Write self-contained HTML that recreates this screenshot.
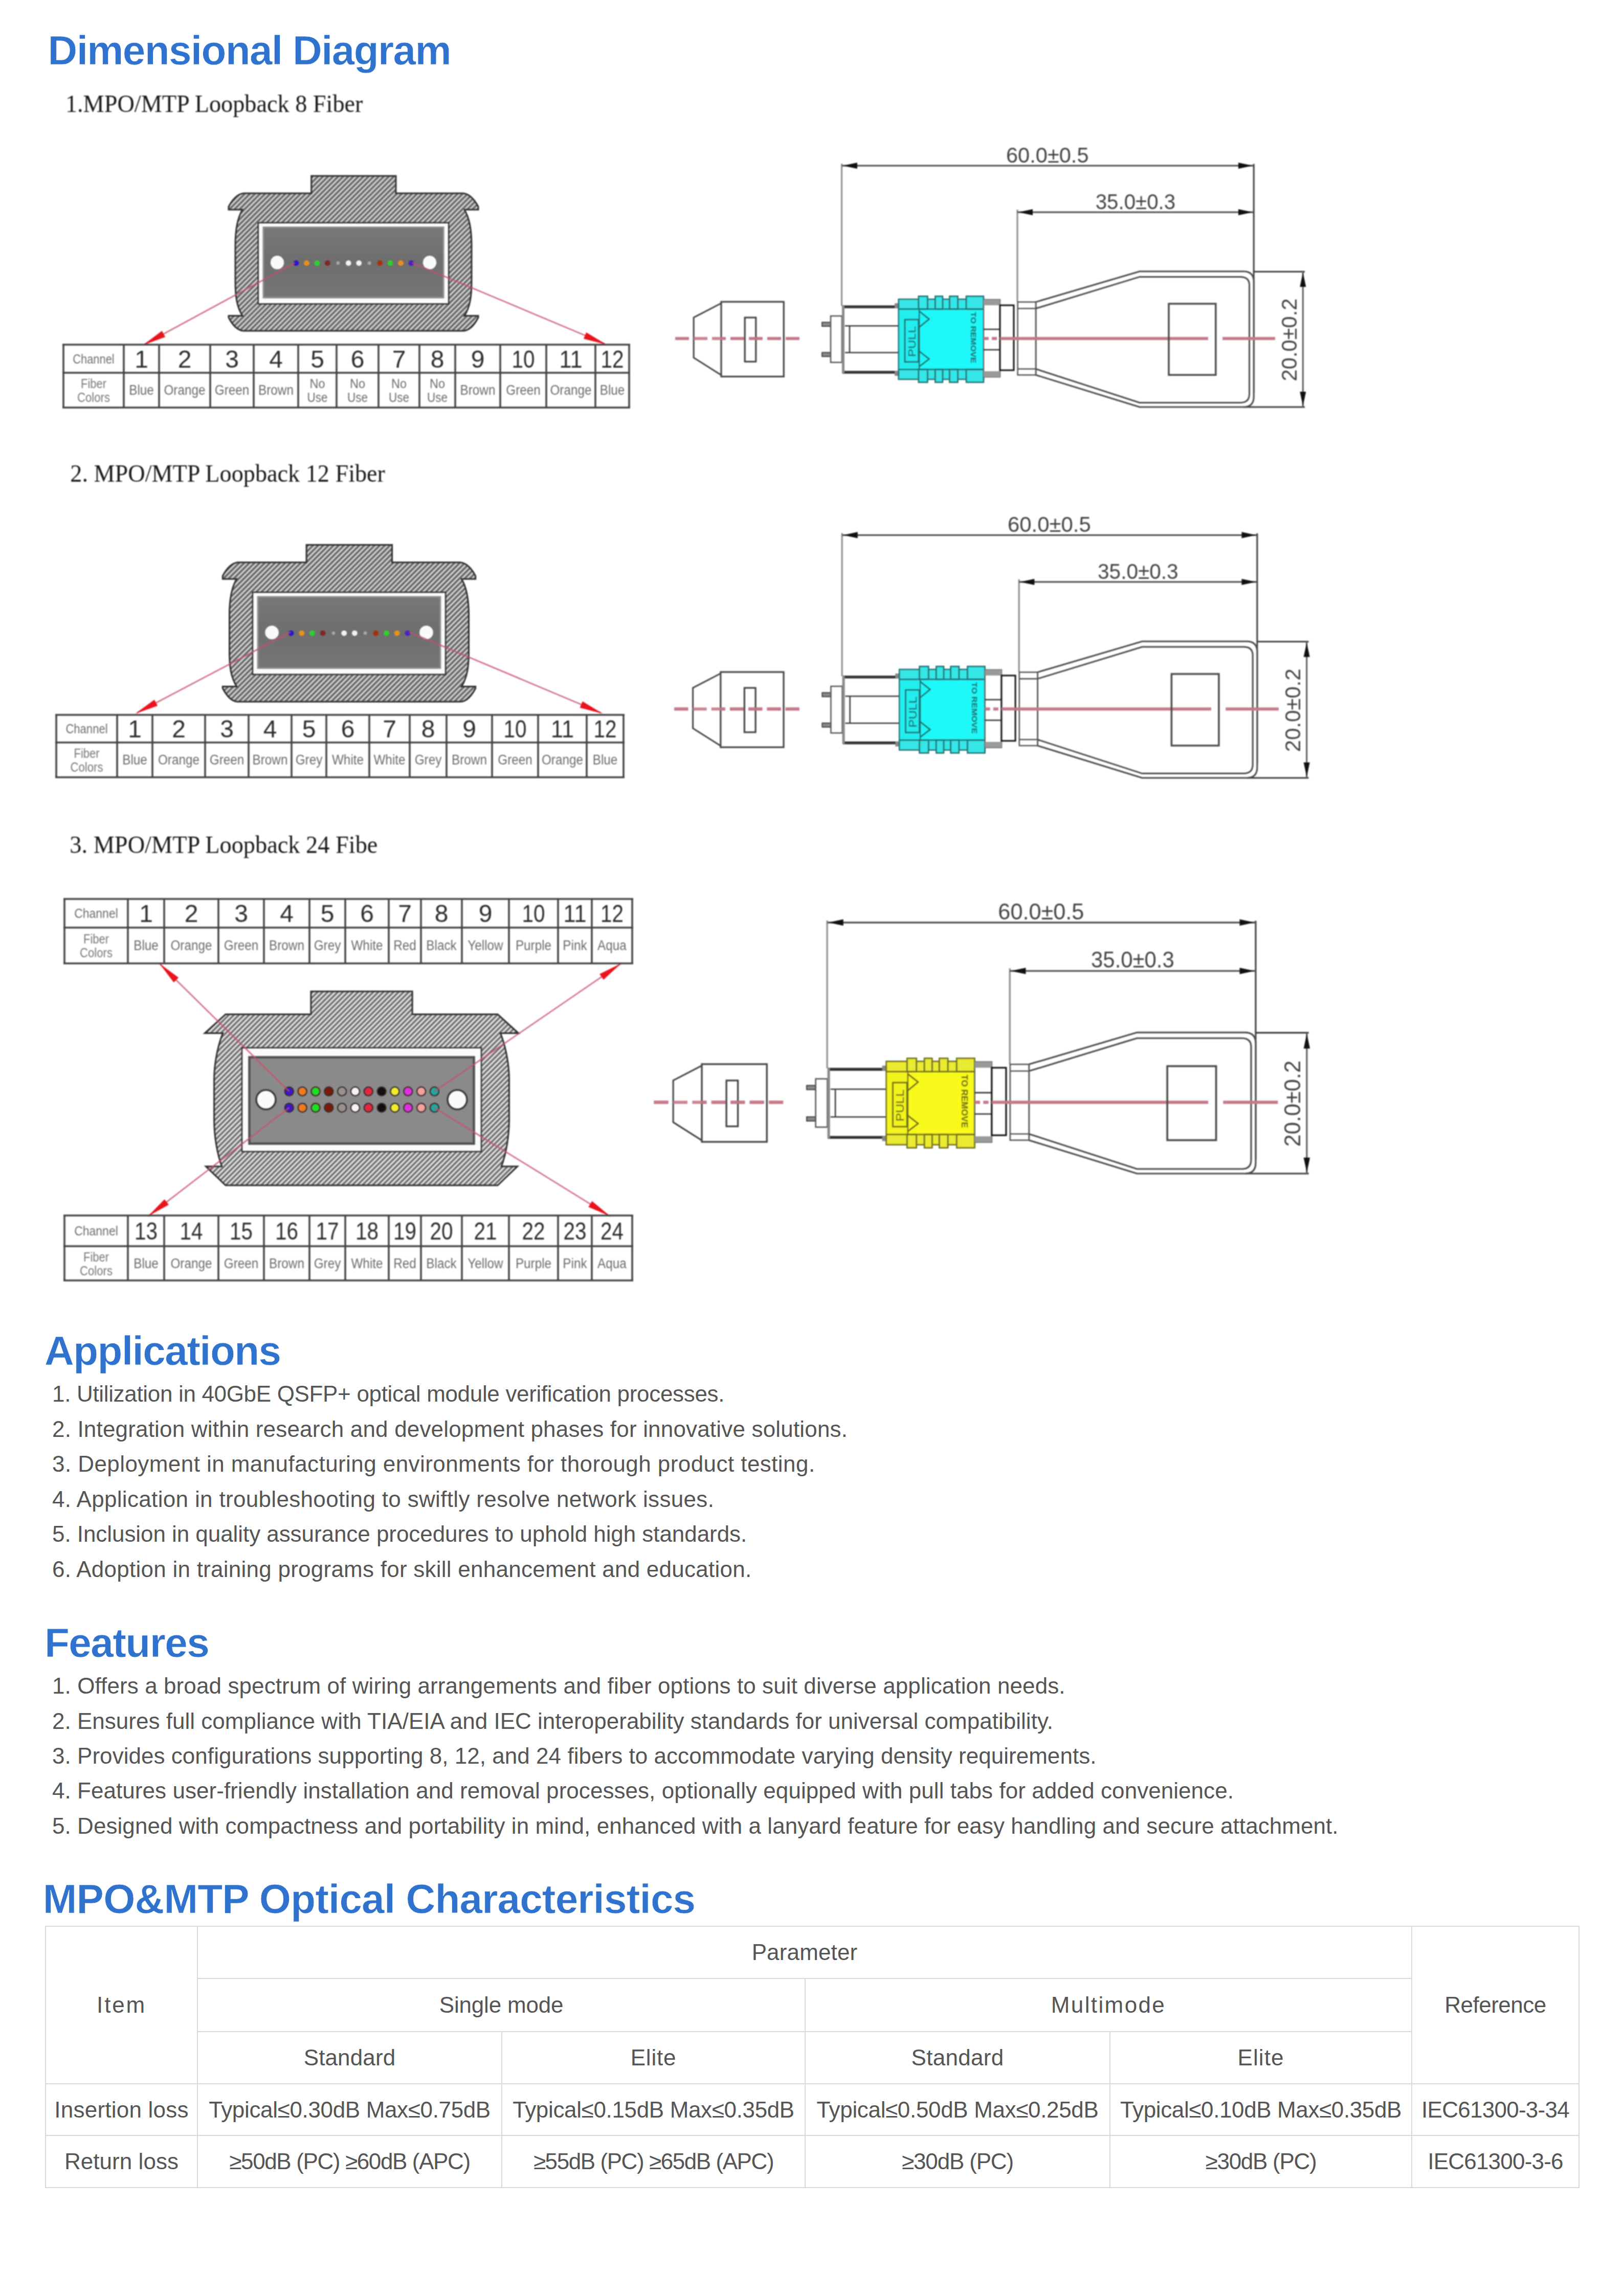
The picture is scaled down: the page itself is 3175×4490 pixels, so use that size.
<!DOCTYPE html><html><head><meta charset="utf-8"><title>MPO/MTP Loopback</title><style>
*{margin:0;padding:0;box-sizing:border-box}
html,body{width:3175px;height:4490px;background:#fff;overflow:hidden}
body{position:relative;font-family:"Liberation Sans",sans-serif;color:#555555}
#dg{position:absolute;left:0;top:0;filter:blur(1px)}
h2{position:absolute;margin:0;font-weight:bold;color:#2f73cf;font-size:80px;line-height:1;white-space:nowrap;-webkit-text-stroke:0.6px #fff}
.li{position:absolute;left:0;font-size:44px;line-height:1;white-space:nowrap}
table{position:absolute;border-collapse:collapse;table-layout:fixed;font-size:44px;color:#555555}
td{border:2.5px solid #d9d9d9;text-align:center;vertical-align:middle;padding:0;white-space:nowrap;line-height:1}
</style></head><body>
<svg id="dg" width="3175" height="2600" viewBox="0 0 3175 2600"><defs><pattern id="hatch" patternUnits="userSpaceOnUse" width="7" height="7" patternTransform="rotate(-45)"><rect width="7" height="7" fill="#909090"/><rect x="0" y="0" width="7" height="1.9" fill="#ececec"/><rect x="0" y="3.5" width="7" height="2.2" fill="#5c5c5c"/></pattern><pattern id="hatch24" patternUnits="userSpaceOnUse" width="7" height="7" patternTransform="rotate(-45)"><rect width="7" height="7" fill="#989898"/><rect x="0" y="0" width="7" height="2.4" fill="#f2f2f2"/><rect x="0" y="3.9" width="7" height="2" fill="#5e5e5e"/></pattern><linearGradient id="gface" x1="0" y1="0" x2="0" y2="1"><stop offset="0" stop-color="#787878"/><stop offset="0.5" stop-color="#6e6e6e"/><stop offset="1" stop-color="#767676"/></linearGradient></defs><g font-family="Liberation Sans, sans-serif"><path d="M608.7,344 H774 V378 H906 Q922,380 935,404 V410 H908 C919,428 922,452 922,480 V550 C922,580 919,600 908,617.6 H935 V621 Q922,646 906,647 H476 Q460,646 447,621 V617.6 H474 C463,600 460,580 460,550 V480 C460,452 463,428 474,410 H447 V404 Q460,380 476,378 H608.7 Z" fill="url(#hatch)" stroke="#2e2e2e" stroke-width="3"/><rect x="504.8" y="435.6" width="372.4" height="158.7" fill="#fbfbfb" stroke="#303030" stroke-width="2.5"/><rect x="515" y="444.5" width="352" height="137.5" fill="url(#gface)" stroke="#8e8e8e" stroke-width="3"/><circle cx="542" cy="513.3" r="13.2" fill="#fafafa"/><circle cx="840" cy="513.3" r="13.2" fill="#fafafa"/><circle cx="579" cy="514.5" r="5.4" fill="#2c16c8"/><circle cx="599.45" cy="514.5" r="5.4" fill="#e8901e"/><circle cx="619.9" cy="514.5" r="5.4" fill="#2ed02e"/><circle cx="640.35" cy="514.5" r="5.4" fill="#7c2a22"/><circle cx="660.8" cy="514.5" r="3.4" fill="#a8a8a8"/><circle cx="681.25" cy="514.5" r="5.4" fill="#f2f2f2"/><circle cx="701.7" cy="514.5" r="5.4" fill="#f2f2f2"/><circle cx="722.15" cy="514.5" r="3.4" fill="#a8a8a8"/><circle cx="742.6" cy="514.5" r="5.4" fill="#a8300e"/><circle cx="763.05" cy="514.5" r="5.4" fill="#2ed02e"/><circle cx="783.5" cy="514.5" r="5.4" fill="#e8901e"/><circle cx="803.95" cy="514.5" r="5.4" fill="#4a22c0"/><line x1="576.5" y1="514" x2="283" y2="673" stroke="#c8506a" stroke-opacity="0.8" stroke-width="2.8"/><polygon points="279.4,674.9 316.61,647.01 323.09,658.97" fill="#e8141e"/><line x1="806" y1="514" x2="1182" y2="672" stroke="#c8506a" stroke-opacity="0.8" stroke-width="2.8"/><polygon points="1186,674 1140.97,662.42 1146.24,649.88" fill="#e8141e"/><line x1="122" y1="674" x2="1232" y2="674" stroke="#424242" stroke-width="3.5"/><line x1="122" y1="729" x2="1232" y2="729" stroke="#424242" stroke-width="3.5"/><line x1="122" y1="797" x2="1232" y2="797" stroke="#424242" stroke-width="3.5"/><line x1="124" y1="674" x2="124" y2="797" stroke="#424242" stroke-width="3.5"/><line x1="242" y1="674" x2="242" y2="797" stroke="#424242" stroke-width="3.5"/><line x1="311" y1="674" x2="311" y2="797" stroke="#424242" stroke-width="3.5"/><line x1="411" y1="674" x2="411" y2="797" stroke="#424242" stroke-width="3.5"/><line x1="496" y1="674" x2="496" y2="797" stroke="#424242" stroke-width="3.5"/><line x1="583" y1="674" x2="583" y2="797" stroke="#424242" stroke-width="3.5"/><line x1="658" y1="674" x2="658" y2="797" stroke="#424242" stroke-width="3.5"/><line x1="740" y1="674" x2="740" y2="797" stroke="#424242" stroke-width="3.5"/><line x1="820" y1="674" x2="820" y2="797" stroke="#424242" stroke-width="3.5"/><line x1="890" y1="674" x2="890" y2="797" stroke="#424242" stroke-width="3.5"/><line x1="978" y1="674" x2="978" y2="797" stroke="#424242" stroke-width="3.5"/><line x1="1068" y1="674" x2="1068" y2="797" stroke="#424242" stroke-width="3.5"/><line x1="1164" y1="674" x2="1164" y2="797" stroke="#424242" stroke-width="3.5"/><line x1="1230" y1="674" x2="1230" y2="797" stroke="#424242" stroke-width="3.5"/><text x="183" y="710.5" font-size="25" fill="#6e6e6e" text-anchor="middle" textLength="81.42" lengthAdjust="spacingAndGlyphs">Channel</text><text x="183" y="759" font-size="25" fill="#777" text-anchor="middle" textLength="50" lengthAdjust="spacingAndGlyphs">Fiber</text><text x="183" y="786" font-size="25" fill="#777" text-anchor="middle" textLength="64" lengthAdjust="spacingAndGlyphs">Colors</text><text x="276.5" y="718.5" font-size="48" fill="#2e2e2e" text-anchor="middle">1</text><text x="361" y="718.5" font-size="48" fill="#2e2e2e" text-anchor="middle">2</text><text x="453.5" y="718.5" font-size="48" fill="#2e2e2e" text-anchor="middle">3</text><text x="539.5" y="718.5" font-size="48" fill="#2e2e2e" text-anchor="middle">4</text><text x="620.5" y="718.5" font-size="48" fill="#2e2e2e" text-anchor="middle">5</text><text x="699" y="718.5" font-size="48" fill="#2e2e2e" text-anchor="middle">6</text><text x="780" y="718.5" font-size="48" fill="#2e2e2e" text-anchor="middle">7</text><text x="855" y="718.5" font-size="48" fill="#2e2e2e" text-anchor="middle">8</text><text x="934" y="718.5" font-size="48" fill="#2e2e2e" text-anchor="middle">9</text><text x="1023" y="718.5" font-size="48" fill="#2e2e2e" text-anchor="middle" textLength="45" lengthAdjust="spacingAndGlyphs">10</text><text x="1116" y="718.5" font-size="48" fill="#2e2e2e" text-anchor="middle" textLength="45" lengthAdjust="spacingAndGlyphs">11</text><text x="1197" y="718.5" font-size="48" fill="#2e2e2e" text-anchor="middle" textLength="45" lengthAdjust="spacingAndGlyphs">12</text><text x="276.5" y="772" font-size="27" fill="#6c6c6c" text-anchor="middle" textLength="48.64" lengthAdjust="spacingAndGlyphs">Blue</text><text x="361" y="772" font-size="27" fill="#6c6c6c" text-anchor="middle" textLength="81.04" lengthAdjust="spacingAndGlyphs">Orange</text><text x="453.5" y="772" font-size="27" fill="#6c6c6c" text-anchor="middle" textLength="67.53" lengthAdjust="spacingAndGlyphs">Green</text><text x="539.5" y="772" font-size="27" fill="#6c6c6c" text-anchor="middle" textLength="68.88" lengthAdjust="spacingAndGlyphs">Brown</text><text x="620.5" y="759" font-size="25" fill="#6c6c6c" text-anchor="middle" textLength="30" lengthAdjust="spacingAndGlyphs">No</text><text x="620.5" y="786" font-size="25" fill="#6c6c6c" text-anchor="middle" textLength="40" lengthAdjust="spacingAndGlyphs">Use</text><text x="699" y="759" font-size="25" fill="#6c6c6c" text-anchor="middle" textLength="30" lengthAdjust="spacingAndGlyphs">No</text><text x="699" y="786" font-size="25" fill="#6c6c6c" text-anchor="middle" textLength="40" lengthAdjust="spacingAndGlyphs">Use</text><text x="780" y="759" font-size="25" fill="#6c6c6c" text-anchor="middle" textLength="30" lengthAdjust="spacingAndGlyphs">No</text><text x="780" y="786" font-size="25" fill="#6c6c6c" text-anchor="middle" textLength="40" lengthAdjust="spacingAndGlyphs">Use</text><text x="855" y="759" font-size="25" fill="#6c6c6c" text-anchor="middle" textLength="30" lengthAdjust="spacingAndGlyphs">No</text><text x="855" y="786" font-size="25" fill="#6c6c6c" text-anchor="middle" textLength="40" lengthAdjust="spacingAndGlyphs">Use</text><text x="934" y="772" font-size="27" fill="#6c6c6c" text-anchor="middle" textLength="68.88" lengthAdjust="spacingAndGlyphs">Brown</text><text x="1023" y="772" font-size="27" fill="#6c6c6c" text-anchor="middle" textLength="67.53" lengthAdjust="spacingAndGlyphs">Green</text><text x="1116" y="772" font-size="27" fill="#6c6c6c" text-anchor="middle" textLength="81.04" lengthAdjust="spacingAndGlyphs">Orange</text><text x="1197" y="772" font-size="27" fill="#6c6c6c" text-anchor="middle" textLength="48.64" lengthAdjust="spacingAndGlyphs">Blue</text><g stroke-linecap="butt"><line x1="1645.6" y1="320" x2="1645.6" y2="598" stroke="#8a8a8a" stroke-width="3"/><line x1="2451.2" y1="320.6" x2="2451.2" y2="769" stroke="#3c3c3c" stroke-width="3"/><line x1="1646" y1="324" x2="2451" y2="324" stroke="#4a4a4a" stroke-width="3"/><line x1="1989" y1="410" x2="1989" y2="590" stroke="#8a8a8a" stroke-width="3"/><line x1="1989" y1="415" x2="2451" y2="415" stroke="#4a4a4a" stroke-width="3"/><line x1="2451" y1="531.2" x2="2551" y2="531.2" stroke="#3c3c3c" stroke-width="3"/><line x1="2431" y1="796" x2="2551" y2="796" stroke="#3c3c3c" stroke-width="3"/><line x1="2547.3" y1="531" x2="2547.3" y2="796" stroke="#5a5a5a" stroke-width="3"/></g><polygon points="1648,324 1676,318 1676,330" fill="#111"/><polygon points="2449,324 2421,330 2421,318" fill="#111"/><polygon points="1991,415 2019,409 2019,421" fill="#111"/><polygon points="2449,415 2421,421 2421,409" fill="#111"/><polygon points="2547.3,533 2553.3,561 2541.3,561" fill="#111"/><polygon points="2547.3,794 2541.3,766 2553.3,766" fill="#111"/><text x="1967" y="317.7" font-size="42" fill="#444" textLength="161.5" lengthAdjust="spacingAndGlyphs">60.0±0.5</text><text x="2141.7" y="408.8" font-size="42" fill="#444" textLength="156.5" lengthAdjust="spacingAndGlyphs">35.0±0.3</text><text transform="translate(2535,745.5) rotate(-90)" font-size="42" fill="#444" textLength="162" lengthAdjust="spacingAndGlyphs">20.0±0.2</text><line x1="1320" y1="662" x2="1572" y2="662" stroke="#c47a8a" stroke-width="6" stroke-dasharray="27 9"/><path d="M1410,593 L1356.2,621 V699.5 L1410,733.6" fill="#fff" stroke="#444" stroke-width="3"/><rect x="1410" y="590.2" width="122.3" height="146.2" fill="none" stroke="#444" stroke-width="3.2"/><rect x="1456.2" y="621" width="21.6" height="86.2" fill="none" stroke="#444" stroke-width="3.2"/><line x1="1320" y1="662" x2="1572" y2="662" stroke="#c47a8a" stroke-width="6" stroke-dasharray="27 9" opacity="0.9"/><rect x="1607" y="630.2" width="17" height="8" fill="#8a8a8a" stroke="#222" stroke-width="1.5"/><rect x="1607" y="689.3" width="17" height="8" fill="#8a8a8a" stroke="#222" stroke-width="1.5"/><rect x="1624" y="617.9" width="22" height="90.8" fill="#fff" stroke="#555" stroke-width="2.5"/><rect x="1647" y="599.4" width="109.4" height="129.3" fill="#fff" stroke="none"/><line x1="1647" y1="600" x2="1756" y2="600" stroke="#333" stroke-width="5.5"/><line x1="1647" y1="728" x2="1756" y2="728" stroke="#333" stroke-width="5.5"/><line x1="1648.5" y1="598" x2="1648.5" y2="730" stroke="#8a8a8a" stroke-width="5"/><line x1="1652" y1="637.3" x2="1756" y2="637.3" stroke="#3a3a3a" stroke-width="2.5"/><line x1="1652" y1="689.6" x2="1756" y2="689.6" stroke="#3a3a3a" stroke-width="2.5"/><line x1="1661" y1="637.3" x2="1661" y2="689.6" stroke="#3a3a3a" stroke-width="2.5"/><rect x="1749" y="593" width="8" height="10" fill="#888"/><rect x="1749" y="725" width="8" height="10" fill="#888"/><rect x="1756.8" y="585.1" width="166.2" height="156.7" fill="#22eeee" stroke="#236e70" stroke-width="2.5"/><rect x="1756.8" y="604.3" width="40.5" height="118.3" fill="#22eeee" stroke="#236e70" stroke-width="2"/><rect x="1797.3" y="604.3" width="125.7" height="118.3" fill="#1ef8f8" stroke="#236e70" stroke-width="2"/><rect x="1756.8" y="585.1" width="166.2" height="19.2" fill="#36e6e6" stroke="#236e70" stroke-width="2.2"/><rect x="1756.8" y="722.6" width="166.2" height="19.2" fill="#36e6e6" stroke="#236e70" stroke-width="2.2"/><rect x="1795.8" y="579.2" width="17.7" height="25.1" fill="#36e6e6" stroke="#236e70" stroke-width="2.5"/><rect x="1795.8" y="722.6" width="17.7" height="25.1" fill="#36e6e6" stroke="#236e70" stroke-width="2.5"/><rect x="1828.3" y="579.2" width="14.7" height="25.1" fill="#36e6e6" stroke="#236e70" stroke-width="2.5"/><rect x="1828.3" y="722.6" width="14.7" height="25.1" fill="#36e6e6" stroke="#236e70" stroke-width="2.5"/><rect x="1856.4" y="579.2" width="16.2" height="25.1" fill="#36e6e6" stroke="#236e70" stroke-width="2.5"/><rect x="1856.4" y="722.6" width="16.2" height="25.1" fill="#36e6e6" stroke="#236e70" stroke-width="2.5"/><rect x="1889" y="579.2" width="34" height="25.1" fill="#36e6e6" stroke="#236e70" stroke-width="2.5"/><rect x="1889" y="722.6" width="34" height="25.1" fill="#36e6e6" stroke="#236e70" stroke-width="2.5"/><rect x="1769" y="625" width="26.8" height="82.8" fill="none" stroke="#236e70" stroke-width="2.5"/><text transform="translate(1790,698) rotate(-90)" font-size="21" fill="#236e70" textLength="60" lengthAdjust="spacingAndGlyphs">PULL</text><polyline points="1797.3,608.8 1816.5,624 1797.3,639.8" fill="none" stroke="#236e70" stroke-width="2.5"/><polyline points="1797.3,687 1816.5,702 1797.3,716.7" fill="none" stroke="#236e70" stroke-width="2.5"/><text transform="translate(1898,610) rotate(90)" font-size="15" font-weight="bold" fill="#236e70" textLength="100" lengthAdjust="spacingAndGlyphs">TO REMOVE</text><rect x="1923" y="586" width="32" height="151" fill="#fff" stroke="#666" stroke-width="2.5"/><rect x="1923" y="586" width="32" height="11" fill="#9a9a9a"/><rect x="1923" y="726" width="32" height="11" fill="#9a9a9a"/><line x1="1923" y1="644" x2="1955" y2="644" stroke="#333" stroke-width="2.5"/><line x1="1923" y1="684" x2="1955" y2="684" stroke="#333" stroke-width="2.5"/><line x1="1923" y1="662" x2="1955" y2="662" stroke="#c47a8a" stroke-width="6" stroke-dasharray="10 6"/><rect x="1955" y="597" width="27" height="127" fill="#fff" stroke="#111" stroke-width="3"/><line x1="1955" y1="662" x2="1982" y2="662" stroke="#c47a8a" stroke-width="6"/><path d="M2025,590.6 L2228,530.7 H2431 Q2451.2,530.7 2451.2,551 V776 Q2451.2,796 2431,796 H2228 L2025,733.3 Z" fill="#fff" stroke="#4a4a4a" stroke-width="3"/><path d="M2025,603.3 L2228,541.4 H2425 Q2442.6,541.4 2442.6,558 V770 Q2442.6,787.4 2425,787.4 H2228 L2025,721.5 Z" fill="#fff" stroke="#4a4a4a" stroke-width="3"/><rect x="1989.6" y="590.6" width="35.4" height="142.7" fill="#fff" stroke="#555" stroke-width="2.5"/><line x1="1989.6" y1="603.3" x2="2025" y2="603.3" stroke="#555" stroke-width="2.5"/><line x1="1989.6" y1="721.5" x2="2025" y2="721.5" stroke="#555" stroke-width="2.5"/><line x1="1982" y1="662" x2="2362" y2="662" stroke="#c47a8a" stroke-width="6"/><line x1="2390" y1="662" x2="2493" y2="662" stroke="#c47a8a" stroke-width="6"/><rect x="2285" y="594" width="91.8" height="139.2" fill="none" stroke="#4a4a4a" stroke-width="3.5"/><g transform="matrix(1.013,0,0,1.013,-17.48,716.93)"><path d="M608.7,344 H774 V378 H906 Q922,380 935,404 V410 H908 C919,428 922,452 922,480 V550 C922,580 919,600 908,617.6 H935 V621 Q922,646 906,647 H476 Q460,646 447,621 V617.6 H474 C463,600 460,580 460,550 V480 C460,452 463,428 474,410 H447 V404 Q460,380 476,378 H608.7 Z" fill="url(#hatch)" stroke="#2e2e2e" stroke-width="3"/><rect x="504.8" y="435.6" width="372.4" height="158.7" fill="#fbfbfb" stroke="#303030" stroke-width="2.5"/><rect x="515" y="444.5" width="352" height="137.5" fill="url(#gface)" stroke="#8e8e8e" stroke-width="3"/><circle cx="542" cy="513.3" r="13.2" fill="#fafafa"/><circle cx="840" cy="513.3" r="13.2" fill="#fafafa"/><circle cx="579" cy="514.5" r="5.4" fill="#2c16c8"/><circle cx="599.45" cy="514.5" r="5.4" fill="#e8901e"/><circle cx="619.9" cy="514.5" r="5.4" fill="#2ed02e"/><circle cx="640.35" cy="514.5" r="5.4" fill="#7c2a22"/><circle cx="660.8" cy="514.5" r="3.4" fill="#a8a8a8"/><circle cx="681.25" cy="514.5" r="5.4" fill="#f2f2f2"/><circle cx="701.7" cy="514.5" r="5.4" fill="#f2f2f2"/><circle cx="722.15" cy="514.5" r="3.4" fill="#a8a8a8"/><circle cx="742.6" cy="514.5" r="5.4" fill="#a8300e"/><circle cx="763.05" cy="514.5" r="5.4" fill="#2ed02e"/><circle cx="783.5" cy="514.5" r="5.4" fill="#e8901e"/><circle cx="803.95" cy="514.5" r="5.4" fill="#4a22c0"/></g><line x1="568" y1="1236" x2="268" y2="1394" stroke="#c8506a" stroke-opacity="0.8" stroke-width="2.8"/><polygon points="264.3,1395.7 301.85,1368.27 308.18,1380.31" fill="#e8141e"/><line x1="800" y1="1236" x2="1175" y2="1394" stroke="#c8506a" stroke-opacity="0.8" stroke-width="2.8"/><polygon points="1178.6,1395.7 1133.57,1384.09 1138.86,1371.56" fill="#e8141e"/><line x1="108" y1="1398" x2="1221" y2="1398" stroke="#424242" stroke-width="3.5"/><line x1="108" y1="1452" x2="1221" y2="1452" stroke="#424242" stroke-width="3.5"/><line x1="108" y1="1520" x2="1221" y2="1520" stroke="#424242" stroke-width="3.5"/><line x1="110" y1="1398" x2="110" y2="1520" stroke="#424242" stroke-width="3.5"/><line x1="229" y1="1398" x2="229" y2="1520" stroke="#424242" stroke-width="3.5"/><line x1="298" y1="1398" x2="298" y2="1520" stroke="#424242" stroke-width="3.5"/><line x1="401" y1="1398" x2="401" y2="1520" stroke="#424242" stroke-width="3.5"/><line x1="486" y1="1398" x2="486" y2="1520" stroke="#424242" stroke-width="3.5"/><line x1="570" y1="1398" x2="570" y2="1520" stroke="#424242" stroke-width="3.5"/><line x1="638" y1="1398" x2="638" y2="1520" stroke="#424242" stroke-width="3.5"/><line x1="722" y1="1398" x2="722" y2="1520" stroke="#424242" stroke-width="3.5"/><line x1="801" y1="1398" x2="801" y2="1520" stroke="#424242" stroke-width="3.5"/><line x1="873" y1="1398" x2="873" y2="1520" stroke="#424242" stroke-width="3.5"/><line x1="962" y1="1398" x2="962" y2="1520" stroke="#424242" stroke-width="3.5"/><line x1="1052" y1="1398" x2="1052" y2="1520" stroke="#424242" stroke-width="3.5"/><line x1="1147" y1="1398" x2="1147" y2="1520" stroke="#424242" stroke-width="3.5"/><line x1="1219" y1="1398" x2="1219" y2="1520" stroke="#424242" stroke-width="3.5"/><text x="169.5" y="1434" font-size="25" fill="#6e6e6e" text-anchor="middle" textLength="82.11" lengthAdjust="spacingAndGlyphs">Channel</text><text x="169.5" y="1482" font-size="25" fill="#777" text-anchor="middle" textLength="50" lengthAdjust="spacingAndGlyphs">Fiber</text><text x="169.5" y="1509" font-size="25" fill="#777" text-anchor="middle" textLength="64" lengthAdjust="spacingAndGlyphs">Colors</text><text x="263.5" y="1442" font-size="48" fill="#2e2e2e" text-anchor="middle">1</text><text x="349.5" y="1442" font-size="48" fill="#2e2e2e" text-anchor="middle">2</text><text x="443.5" y="1442" font-size="48" fill="#2e2e2e" text-anchor="middle">3</text><text x="528" y="1442" font-size="48" fill="#2e2e2e" text-anchor="middle">4</text><text x="604" y="1442" font-size="48" fill="#2e2e2e" text-anchor="middle">5</text><text x="680" y="1442" font-size="48" fill="#2e2e2e" text-anchor="middle">6</text><text x="761.5" y="1442" font-size="48" fill="#2e2e2e" text-anchor="middle">7</text><text x="837" y="1442" font-size="48" fill="#2e2e2e" text-anchor="middle">8</text><text x="917.5" y="1442" font-size="48" fill="#2e2e2e" text-anchor="middle">9</text><text x="1007" y="1442" font-size="48" fill="#2e2e2e" text-anchor="middle" textLength="45" lengthAdjust="spacingAndGlyphs">10</text><text x="1099.5" y="1442" font-size="48" fill="#2e2e2e" text-anchor="middle" textLength="45" lengthAdjust="spacingAndGlyphs">11</text><text x="1183" y="1442" font-size="48" fill="#2e2e2e" text-anchor="middle" textLength="45" lengthAdjust="spacingAndGlyphs">12</text><text x="263.5" y="1495" font-size="27" fill="#6c6c6c" text-anchor="middle" textLength="48.64" lengthAdjust="spacingAndGlyphs">Blue</text><text x="349.5" y="1495" font-size="27" fill="#6c6c6c" text-anchor="middle" textLength="81.04" lengthAdjust="spacingAndGlyphs">Orange</text><text x="443.5" y="1495" font-size="27" fill="#6c6c6c" text-anchor="middle" textLength="67.53" lengthAdjust="spacingAndGlyphs">Green</text><text x="528" y="1495" font-size="27" fill="#6c6c6c" text-anchor="middle" textLength="68.88" lengthAdjust="spacingAndGlyphs">Brown</text><text x="604" y="1495" font-size="27" fill="#6c6c6c" text-anchor="middle" textLength="52.65" lengthAdjust="spacingAndGlyphs">Grey</text><text x="680" y="1495" font-size="27" fill="#6c6c6c" text-anchor="middle" textLength="62.11" lengthAdjust="spacingAndGlyphs">White</text><text x="761.5" y="1495" font-size="27" fill="#6c6c6c" text-anchor="middle" textLength="62.11" lengthAdjust="spacingAndGlyphs">White</text><text x="837" y="1495" font-size="27" fill="#6c6c6c" text-anchor="middle" textLength="52.65" lengthAdjust="spacingAndGlyphs">Grey</text><text x="917.5" y="1495" font-size="27" fill="#6c6c6c" text-anchor="middle" textLength="68.88" lengthAdjust="spacingAndGlyphs">Brown</text><text x="1007" y="1495" font-size="27" fill="#6c6c6c" text-anchor="middle" textLength="67.53" lengthAdjust="spacingAndGlyphs">Green</text><text x="1099.5" y="1495" font-size="27" fill="#6c6c6c" text-anchor="middle" textLength="81.04" lengthAdjust="spacingAndGlyphs">Orange</text><text x="1183" y="1495" font-size="27" fill="#6c6c6c" text-anchor="middle" textLength="48.64" lengthAdjust="spacingAndGlyphs">Blue</text><g transform="matrix(1.0075,0,0,1.006,-11.74,720.46)"><g stroke-linecap="butt"><line x1="1645.6" y1="320" x2="1645.6" y2="598" stroke="#8a8a8a" stroke-width="3"/><line x1="2451.2" y1="320.6" x2="2451.2" y2="769" stroke="#3c3c3c" stroke-width="3"/><line x1="1646" y1="324" x2="2451" y2="324" stroke="#4a4a4a" stroke-width="3"/><line x1="1989" y1="410" x2="1989" y2="590" stroke="#8a8a8a" stroke-width="3"/><line x1="1989" y1="415" x2="2451" y2="415" stroke="#4a4a4a" stroke-width="3"/><line x1="2451" y1="531.2" x2="2551" y2="531.2" stroke="#3c3c3c" stroke-width="3"/><line x1="2431" y1="796" x2="2551" y2="796" stroke="#3c3c3c" stroke-width="3"/><line x1="2547.3" y1="531" x2="2547.3" y2="796" stroke="#5a5a5a" stroke-width="3"/></g><polygon points="1648,324 1676,318 1676,330" fill="#111"/><polygon points="2449,324 2421,330 2421,318" fill="#111"/><polygon points="1991,415 2019,409 2019,421" fill="#111"/><polygon points="2449,415 2421,421 2421,409" fill="#111"/><polygon points="2547.3,533 2553.3,561 2541.3,561" fill="#111"/><polygon points="2547.3,794 2541.3,766 2553.3,766" fill="#111"/><text x="1967" y="317.7" font-size="42" fill="#444" textLength="161.5" lengthAdjust="spacingAndGlyphs">60.0±0.5</text><text x="2141.7" y="408.8" font-size="42" fill="#444" textLength="156.5" lengthAdjust="spacingAndGlyphs">35.0±0.3</text><text transform="translate(2535,745.5) rotate(-90)" font-size="42" fill="#444" textLength="162" lengthAdjust="spacingAndGlyphs">20.0±0.2</text><line x1="1320" y1="662" x2="1572" y2="662" stroke="#c47a8a" stroke-width="6" stroke-dasharray="27 9"/><path d="M1410,593 L1356.2,621 V699.5 L1410,733.6" fill="#fff" stroke="#444" stroke-width="3"/><rect x="1410" y="590.2" width="122.3" height="146.2" fill="none" stroke="#444" stroke-width="3.2"/><rect x="1456.2" y="621" width="21.6" height="86.2" fill="none" stroke="#444" stroke-width="3.2"/><line x1="1320" y1="662" x2="1572" y2="662" stroke="#c47a8a" stroke-width="6" stroke-dasharray="27 9" opacity="0.9"/><rect x="1607" y="630.2" width="17" height="8" fill="#8a8a8a" stroke="#222" stroke-width="1.5"/><rect x="1607" y="689.3" width="17" height="8" fill="#8a8a8a" stroke="#222" stroke-width="1.5"/><rect x="1624" y="617.9" width="22" height="90.8" fill="#fff" stroke="#555" stroke-width="2.5"/><rect x="1647" y="599.4" width="109.4" height="129.3" fill="#fff" stroke="none"/><line x1="1647" y1="600" x2="1756" y2="600" stroke="#333" stroke-width="5.5"/><line x1="1647" y1="728" x2="1756" y2="728" stroke="#333" stroke-width="5.5"/><line x1="1648.5" y1="598" x2="1648.5" y2="730" stroke="#8a8a8a" stroke-width="5"/><line x1="1652" y1="637.3" x2="1756" y2="637.3" stroke="#3a3a3a" stroke-width="2.5"/><line x1="1652" y1="689.6" x2="1756" y2="689.6" stroke="#3a3a3a" stroke-width="2.5"/><line x1="1661" y1="637.3" x2="1661" y2="689.6" stroke="#3a3a3a" stroke-width="2.5"/><rect x="1749" y="593" width="8" height="10" fill="#888"/><rect x="1749" y="725" width="8" height="10" fill="#888"/><rect x="1756.8" y="585.1" width="166.2" height="156.7" fill="#22eeee" stroke="#236e70" stroke-width="2.5"/><rect x="1756.8" y="604.3" width="40.5" height="118.3" fill="#22eeee" stroke="#236e70" stroke-width="2"/><rect x="1797.3" y="604.3" width="125.7" height="118.3" fill="#1ef8f8" stroke="#236e70" stroke-width="2"/><rect x="1756.8" y="585.1" width="166.2" height="19.2" fill="#36e6e6" stroke="#236e70" stroke-width="2.2"/><rect x="1756.8" y="722.6" width="166.2" height="19.2" fill="#36e6e6" stroke="#236e70" stroke-width="2.2"/><rect x="1795.8" y="579.2" width="17.7" height="25.1" fill="#36e6e6" stroke="#236e70" stroke-width="2.5"/><rect x="1795.8" y="722.6" width="17.7" height="25.1" fill="#36e6e6" stroke="#236e70" stroke-width="2.5"/><rect x="1828.3" y="579.2" width="14.7" height="25.1" fill="#36e6e6" stroke="#236e70" stroke-width="2.5"/><rect x="1828.3" y="722.6" width="14.7" height="25.1" fill="#36e6e6" stroke="#236e70" stroke-width="2.5"/><rect x="1856.4" y="579.2" width="16.2" height="25.1" fill="#36e6e6" stroke="#236e70" stroke-width="2.5"/><rect x="1856.4" y="722.6" width="16.2" height="25.1" fill="#36e6e6" stroke="#236e70" stroke-width="2.5"/><rect x="1889" y="579.2" width="34" height="25.1" fill="#36e6e6" stroke="#236e70" stroke-width="2.5"/><rect x="1889" y="722.6" width="34" height="25.1" fill="#36e6e6" stroke="#236e70" stroke-width="2.5"/><rect x="1769" y="625" width="26.8" height="82.8" fill="none" stroke="#236e70" stroke-width="2.5"/><text transform="translate(1790,698) rotate(-90)" font-size="21" fill="#236e70" textLength="60" lengthAdjust="spacingAndGlyphs">PULL</text><polyline points="1797.3,608.8 1816.5,624 1797.3,639.8" fill="none" stroke="#236e70" stroke-width="2.5"/><polyline points="1797.3,687 1816.5,702 1797.3,716.7" fill="none" stroke="#236e70" stroke-width="2.5"/><text transform="translate(1898,610) rotate(90)" font-size="15" font-weight="bold" fill="#236e70" textLength="100" lengthAdjust="spacingAndGlyphs">TO REMOVE</text><rect x="1923" y="586" width="32" height="151" fill="#fff" stroke="#666" stroke-width="2.5"/><rect x="1923" y="586" width="32" height="11" fill="#9a9a9a"/><rect x="1923" y="726" width="32" height="11" fill="#9a9a9a"/><line x1="1923" y1="644" x2="1955" y2="644" stroke="#333" stroke-width="2.5"/><line x1="1923" y1="684" x2="1955" y2="684" stroke="#333" stroke-width="2.5"/><line x1="1923" y1="662" x2="1955" y2="662" stroke="#c47a8a" stroke-width="6" stroke-dasharray="10 6"/><rect x="1955" y="597" width="27" height="127" fill="#fff" stroke="#111" stroke-width="3"/><line x1="1955" y1="662" x2="1982" y2="662" stroke="#c47a8a" stroke-width="6"/><path d="M2025,590.6 L2228,530.7 H2431 Q2451.2,530.7 2451.2,551 V776 Q2451.2,796 2431,796 H2228 L2025,733.3 Z" fill="#fff" stroke="#4a4a4a" stroke-width="3"/><path d="M2025,603.3 L2228,541.4 H2425 Q2442.6,541.4 2442.6,558 V770 Q2442.6,787.4 2425,787.4 H2228 L2025,721.5 Z" fill="#fff" stroke="#4a4a4a" stroke-width="3"/><rect x="1989.6" y="590.6" width="35.4" height="142.7" fill="#fff" stroke="#555" stroke-width="2.5"/><line x1="1989.6" y1="603.3" x2="2025" y2="603.3" stroke="#555" stroke-width="2.5"/><line x1="1989.6" y1="721.5" x2="2025" y2="721.5" stroke="#555" stroke-width="2.5"/><line x1="1982" y1="662" x2="2362" y2="662" stroke="#c47a8a" stroke-width="6"/><line x1="2390" y1="662" x2="2493" y2="662" stroke="#c47a8a" stroke-width="6"/><rect x="2285" y="594" width="91.8" height="139.2" fill="none" stroke="#4a4a4a" stroke-width="3.5"/></g><path d="M607.9,1938.8 H806.1 V1983.6 H973 L1013.7,2020.6 H978.5 C990,2050 995.4,2085 995.4,2110 V2190 C995.4,2220 990,2255 980.3,2281 H1011.6 L973,2318 H441 L402.4,2281 H433.7 C424,2255 418.6,2220 418.6,2190 V2110 C418.6,2085 424,2050 435.5,2020.6 H400.3 L441,1983.6 H607.9 Z" fill="url(#hatch24)" stroke="#2e2e2e" stroke-width="3"/><rect x="473" y="2049" width="468" height="203" fill="#fbfbfb" stroke="#303030" stroke-width="2.5"/><rect x="487.5" y="2067.5" width="439" height="169" fill="#8a8a8a" stroke="#505050" stroke-width="4.5"/><circle cx="520" cy="2150.5" r="19" fill="#fafafa" stroke="#3a3a3a" stroke-width="3.5"/><circle cx="894" cy="2150.5" r="19" fill="#fafafa" stroke="#3a3a3a" stroke-width="3.5"/><circle cx="565.3" cy="2134.3" r="8.6" fill="#3a18c8" stroke="#3a2a2a" stroke-width="2.2"/><circle cx="591.13" cy="2134.3" r="8.6" fill="#f07a20" stroke="#3a2a2a" stroke-width="2.2"/><circle cx="616.96" cy="2134.3" r="8.6" fill="#22dd22" stroke="#3a2a2a" stroke-width="2.2"/><circle cx="642.79" cy="2134.3" r="8.6" fill="#7a1a0a" stroke="#3a2a2a" stroke-width="2.2"/><circle cx="668.62" cy="2134.3" r="8.6" fill="#9a9090" stroke="#3a2a2a" stroke-width="2.2"/><circle cx="694.45" cy="2134.3" r="8.6" fill="#f4f4f4" stroke="#3a2a2a" stroke-width="2.2"/><circle cx="720.28" cy="2134.3" r="8.6" fill="#e02840" stroke="#3a2a2a" stroke-width="2.2"/><circle cx="746.11" cy="2134.3" r="8.6" fill="#101010" stroke="#3a2a2a" stroke-width="2.2"/><circle cx="771.94" cy="2134.3" r="8.6" fill="#eeee30" stroke="#3a2a2a" stroke-width="2.2"/><circle cx="797.77" cy="2134.3" r="8.6" fill="#e030e0" stroke="#3a2a2a" stroke-width="2.2"/><circle cx="823.6" cy="2134.3" r="8.6" fill="#f4a0a0" stroke="#3a2a2a" stroke-width="2.2"/><circle cx="849.43" cy="2134.3" r="8.6" fill="#20a8a0" stroke="#3a2a2a" stroke-width="2.2"/><circle cx="565.3" cy="2166.2" r="8.6" fill="#3a18c8" stroke="#3a2a2a" stroke-width="2.2"/><circle cx="591.13" cy="2166.2" r="8.6" fill="#f07a20" stroke="#3a2a2a" stroke-width="2.2"/><circle cx="616.96" cy="2166.2" r="8.6" fill="#22dd22" stroke="#3a2a2a" stroke-width="2.2"/><circle cx="642.79" cy="2166.2" r="8.6" fill="#7a1a0a" stroke="#3a2a2a" stroke-width="2.2"/><circle cx="668.62" cy="2166.2" r="8.6" fill="#9a9090" stroke="#3a2a2a" stroke-width="2.2"/><circle cx="694.45" cy="2166.2" r="8.6" fill="#f4f4f4" stroke="#3a2a2a" stroke-width="2.2"/><circle cx="720.28" cy="2166.2" r="8.6" fill="#e02840" stroke="#3a2a2a" stroke-width="2.2"/><circle cx="746.11" cy="2166.2" r="8.6" fill="#101010" stroke="#3a2a2a" stroke-width="2.2"/><circle cx="771.94" cy="2166.2" r="8.6" fill="#eeee30" stroke="#3a2a2a" stroke-width="2.2"/><circle cx="797.77" cy="2166.2" r="8.6" fill="#e030e0" stroke="#3a2a2a" stroke-width="2.2"/><circle cx="823.6" cy="2166.2" r="8.6" fill="#f4a0a0" stroke="#3a2a2a" stroke-width="2.2"/><circle cx="849.43" cy="2166.2" r="8.6" fill="#20a8a0" stroke="#3a2a2a" stroke-width="2.2"/><line x1="565.3" y1="2134.3" x2="311.7" y2="1884.2" stroke="#c8506a" stroke-opacity="0.8" stroke-width="2.8"/><polygon points="311.7,1884.2 349.23,1911.66 339.68,1921.34" fill="#e8141e"/><line x1="849.4" y1="2134.3" x2="1214" y2="1884.3" stroke="#c8506a" stroke-opacity="0.8" stroke-width="2.8"/><polygon points="1214,1884.3 1179.91,1915.92 1172.22,1904.71" fill="#e8141e"/><line x1="565.3" y1="2166.2" x2="289.3" y2="2378.6" stroke="#c8506a" stroke-opacity="0.8" stroke-width="2.8"/><polygon points="289.3,2378.6 321.61,2345.16 329.9,2355.93" fill="#e8141e"/><line x1="849.4" y1="2166.2" x2="1193" y2="2378.6" stroke="#c8506a" stroke-opacity="0.8" stroke-width="2.8"/><polygon points="1193,2378.6 1150.3,2360.2 1157.45,2348.63" fill="#e8141e"/><line x1="124" y1="1758" x2="1238" y2="1758" stroke="#424242" stroke-width="3.5"/><line x1="124" y1="1814" x2="1238" y2="1814" stroke="#424242" stroke-width="3.5"/><line x1="124" y1="1884" x2="1238" y2="1884" stroke="#424242" stroke-width="3.5"/><line x1="126" y1="1758" x2="126" y2="1884" stroke="#424242" stroke-width="3.5"/><line x1="250" y1="1758" x2="250" y2="1884" stroke="#424242" stroke-width="3.5"/><line x1="321" y1="1758" x2="321" y2="1884" stroke="#424242" stroke-width="3.5"/><line x1="427" y1="1758" x2="427" y2="1884" stroke="#424242" stroke-width="3.5"/><line x1="516" y1="1758" x2="516" y2="1884" stroke="#424242" stroke-width="3.5"/><line x1="605" y1="1758" x2="605" y2="1884" stroke="#424242" stroke-width="3.5"/><line x1="675" y1="1758" x2="675" y2="1884" stroke="#424242" stroke-width="3.5"/><line x1="760" y1="1758" x2="760" y2="1884" stroke="#424242" stroke-width="3.5"/><line x1="823" y1="1758" x2="823" y2="1884" stroke="#424242" stroke-width="3.5"/><line x1="903" y1="1758" x2="903" y2="1884" stroke="#424242" stroke-width="3.5"/><line x1="995" y1="1758" x2="995" y2="1884" stroke="#424242" stroke-width="3.5"/><line x1="1091" y1="1758" x2="1091" y2="1884" stroke="#424242" stroke-width="3.5"/><line x1="1157" y1="1758" x2="1157" y2="1884" stroke="#424242" stroke-width="3.5"/><line x1="1236" y1="1758" x2="1236" y2="1884" stroke="#424242" stroke-width="3.5"/><text x="188" y="1795" font-size="25" fill="#6e6e6e" text-anchor="middle" textLength="85.56" lengthAdjust="spacingAndGlyphs">Channel</text><text x="188" y="1845" font-size="25" fill="#777" text-anchor="middle" textLength="50" lengthAdjust="spacingAndGlyphs">Fiber</text><text x="188" y="1872" font-size="25" fill="#777" text-anchor="middle" textLength="64" lengthAdjust="spacingAndGlyphs">Colors</text><text x="285.5" y="1803" font-size="48" fill="#2e2e2e" text-anchor="middle">1</text><text x="374" y="1803" font-size="48" fill="#2e2e2e" text-anchor="middle">2</text><text x="471.5" y="1803" font-size="48" fill="#2e2e2e" text-anchor="middle">3</text><text x="560.5" y="1803" font-size="48" fill="#2e2e2e" text-anchor="middle">4</text><text x="640" y="1803" font-size="48" fill="#2e2e2e" text-anchor="middle">5</text><text x="717.5" y="1803" font-size="48" fill="#2e2e2e" text-anchor="middle">6</text><text x="791.5" y="1803" font-size="48" fill="#2e2e2e" text-anchor="middle">7</text><text x="863" y="1803" font-size="48" fill="#2e2e2e" text-anchor="middle">8</text><text x="949" y="1803" font-size="48" fill="#2e2e2e" text-anchor="middle">9</text><text x="1043" y="1803" font-size="48" fill="#2e2e2e" text-anchor="middle" textLength="45" lengthAdjust="spacingAndGlyphs">10</text><text x="1124" y="1803" font-size="48" fill="#2e2e2e" text-anchor="middle" textLength="45" lengthAdjust="spacingAndGlyphs">11</text><text x="1196.5" y="1803" font-size="48" fill="#2e2e2e" text-anchor="middle" textLength="45" lengthAdjust="spacingAndGlyphs">12</text><text x="285.5" y="1858" font-size="27" fill="#6c6c6c" text-anchor="middle" textLength="48.64" lengthAdjust="spacingAndGlyphs">Blue</text><text x="374" y="1858" font-size="27" fill="#6c6c6c" text-anchor="middle" textLength="81.04" lengthAdjust="spacingAndGlyphs">Orange</text><text x="471.5" y="1858" font-size="27" fill="#6c6c6c" text-anchor="middle" textLength="67.53" lengthAdjust="spacingAndGlyphs">Green</text><text x="560.5" y="1858" font-size="27" fill="#6c6c6c" text-anchor="middle" textLength="68.88" lengthAdjust="spacingAndGlyphs">Brown</text><text x="640" y="1858" font-size="27" fill="#6c6c6c" text-anchor="middle" textLength="52.65" lengthAdjust="spacingAndGlyphs">Grey</text><text x="717.5" y="1858" font-size="27" fill="#6c6c6c" text-anchor="middle" textLength="62.11" lengthAdjust="spacingAndGlyphs">White</text><text x="791.5" y="1858" font-size="27" fill="#6c6c6c" text-anchor="middle" textLength="44.58" lengthAdjust="spacingAndGlyphs">Red</text><text x="863" y="1858" font-size="27" fill="#6c6c6c" text-anchor="middle" textLength="59.43" lengthAdjust="spacingAndGlyphs">Black</text><text x="949" y="1858" font-size="27" fill="#6c6c6c" text-anchor="middle" textLength="69.36" lengthAdjust="spacingAndGlyphs">Yellow</text><text x="1043" y="1858" font-size="27" fill="#6c6c6c" text-anchor="middle" textLength="70.24" lengthAdjust="spacingAndGlyphs">Purple</text><text x="1124" y="1858" font-size="27" fill="#6c6c6c" text-anchor="middle" textLength="47.28" lengthAdjust="spacingAndGlyphs">Pink</text><text x="1196.5" y="1858" font-size="27" fill="#6c6c6c" text-anchor="middle" textLength="56.76" lengthAdjust="spacingAndGlyphs">Aqua</text><line x1="124" y1="2377" x2="1238" y2="2377" stroke="#424242" stroke-width="3.5"/><line x1="124" y1="2437" x2="1238" y2="2437" stroke="#424242" stroke-width="3.5"/><line x1="124" y1="2504" x2="1238" y2="2504" stroke="#424242" stroke-width="3.5"/><line x1="126" y1="2377" x2="126" y2="2504" stroke="#424242" stroke-width="3.5"/><line x1="250" y1="2377" x2="250" y2="2504" stroke="#424242" stroke-width="3.5"/><line x1="321" y1="2377" x2="321" y2="2504" stroke="#424242" stroke-width="3.5"/><line x1="427" y1="2377" x2="427" y2="2504" stroke="#424242" stroke-width="3.5"/><line x1="516" y1="2377" x2="516" y2="2504" stroke="#424242" stroke-width="3.5"/><line x1="605" y1="2377" x2="605" y2="2504" stroke="#424242" stroke-width="3.5"/><line x1="675" y1="2377" x2="675" y2="2504" stroke="#424242" stroke-width="3.5"/><line x1="760" y1="2377" x2="760" y2="2504" stroke="#424242" stroke-width="3.5"/><line x1="823" y1="2377" x2="823" y2="2504" stroke="#424242" stroke-width="3.5"/><line x1="903" y1="2377" x2="903" y2="2504" stroke="#424242" stroke-width="3.5"/><line x1="995" y1="2377" x2="995" y2="2504" stroke="#424242" stroke-width="3.5"/><line x1="1091" y1="2377" x2="1091" y2="2504" stroke="#424242" stroke-width="3.5"/><line x1="1157" y1="2377" x2="1157" y2="2504" stroke="#424242" stroke-width="3.5"/><line x1="1236" y1="2377" x2="1236" y2="2504" stroke="#424242" stroke-width="3.5"/><text x="188" y="2416" font-size="25" fill="#6e6e6e" text-anchor="middle" textLength="85.56" lengthAdjust="spacingAndGlyphs">Channel</text><text x="188" y="2466.5" font-size="25" fill="#777" text-anchor="middle" textLength="50" lengthAdjust="spacingAndGlyphs">Fiber</text><text x="188" y="2493.5" font-size="25" fill="#777" text-anchor="middle" textLength="64" lengthAdjust="spacingAndGlyphs">Colors</text><text x="285.5" y="2424" font-size="48" fill="#2e2e2e" text-anchor="middle" textLength="45" lengthAdjust="spacingAndGlyphs">13</text><text x="374" y="2424" font-size="48" fill="#2e2e2e" text-anchor="middle" textLength="45" lengthAdjust="spacingAndGlyphs">14</text><text x="471.5" y="2424" font-size="48" fill="#2e2e2e" text-anchor="middle" textLength="45" lengthAdjust="spacingAndGlyphs">15</text><text x="560.5" y="2424" font-size="48" fill="#2e2e2e" text-anchor="middle" textLength="45" lengthAdjust="spacingAndGlyphs">16</text><text x="640" y="2424" font-size="48" fill="#2e2e2e" text-anchor="middle" textLength="45" lengthAdjust="spacingAndGlyphs">17</text><text x="717.5" y="2424" font-size="48" fill="#2e2e2e" text-anchor="middle" textLength="45" lengthAdjust="spacingAndGlyphs">18</text><text x="791.5" y="2424" font-size="48" fill="#2e2e2e" text-anchor="middle" textLength="45" lengthAdjust="spacingAndGlyphs">19</text><text x="863" y="2424" font-size="48" fill="#2e2e2e" text-anchor="middle" textLength="45" lengthAdjust="spacingAndGlyphs">20</text><text x="949" y="2424" font-size="48" fill="#2e2e2e" text-anchor="middle" textLength="45" lengthAdjust="spacingAndGlyphs">21</text><text x="1043" y="2424" font-size="48" fill="#2e2e2e" text-anchor="middle" textLength="45" lengthAdjust="spacingAndGlyphs">22</text><text x="1124" y="2424" font-size="48" fill="#2e2e2e" text-anchor="middle" textLength="45" lengthAdjust="spacingAndGlyphs">23</text><text x="1196.5" y="2424" font-size="48" fill="#2e2e2e" text-anchor="middle" textLength="45" lengthAdjust="spacingAndGlyphs">24</text><text x="285.5" y="2479.5" font-size="27" fill="#6c6c6c" text-anchor="middle" textLength="48.64" lengthAdjust="spacingAndGlyphs">Blue</text><text x="374" y="2479.5" font-size="27" fill="#6c6c6c" text-anchor="middle" textLength="81.04" lengthAdjust="spacingAndGlyphs">Orange</text><text x="471.5" y="2479.5" font-size="27" fill="#6c6c6c" text-anchor="middle" textLength="67.53" lengthAdjust="spacingAndGlyphs">Green</text><text x="560.5" y="2479.5" font-size="27" fill="#6c6c6c" text-anchor="middle" textLength="68.88" lengthAdjust="spacingAndGlyphs">Brown</text><text x="640" y="2479.5" font-size="27" fill="#6c6c6c" text-anchor="middle" textLength="52.65" lengthAdjust="spacingAndGlyphs">Grey</text><text x="717.5" y="2479.5" font-size="27" fill="#6c6c6c" text-anchor="middle" textLength="62.11" lengthAdjust="spacingAndGlyphs">White</text><text x="791.5" y="2479.5" font-size="27" fill="#6c6c6c" text-anchor="middle" textLength="44.58" lengthAdjust="spacingAndGlyphs">Red</text><text x="863" y="2479.5" font-size="27" fill="#6c6c6c" text-anchor="middle" textLength="59.43" lengthAdjust="spacingAndGlyphs">Black</text><text x="949" y="2479.5" font-size="27" fill="#6c6c6c" text-anchor="middle" textLength="69.36" lengthAdjust="spacingAndGlyphs">Yellow</text><text x="1043" y="2479.5" font-size="27" fill="#6c6c6c" text-anchor="middle" textLength="70.24" lengthAdjust="spacingAndGlyphs">Purple</text><text x="1124" y="2479.5" font-size="27" fill="#6c6c6c" text-anchor="middle" textLength="47.28" lengthAdjust="spacingAndGlyphs">Pink</text><text x="1196.5" y="2479.5" font-size="27" fill="#6c6c6c" text-anchor="middle" textLength="56.76" lengthAdjust="spacingAndGlyphs">Aqua</text><g transform="matrix(1.04,0,0,1.04,-94.32,1467.14)"><g stroke-linecap="butt"><line x1="1645.6" y1="320" x2="1645.6" y2="598" stroke="#8a8a8a" stroke-width="3"/><line x1="2451.2" y1="320.6" x2="2451.2" y2="769" stroke="#3c3c3c" stroke-width="3"/><line x1="1646" y1="324" x2="2451" y2="324" stroke="#4a4a4a" stroke-width="3"/><line x1="1989" y1="410" x2="1989" y2="590" stroke="#8a8a8a" stroke-width="3"/><line x1="1989" y1="415" x2="2451" y2="415" stroke="#4a4a4a" stroke-width="3"/><line x1="2451" y1="531.2" x2="2551" y2="531.2" stroke="#3c3c3c" stroke-width="3"/><line x1="2431" y1="796" x2="2551" y2="796" stroke="#3c3c3c" stroke-width="3"/><line x1="2547.3" y1="531" x2="2547.3" y2="796" stroke="#5a5a5a" stroke-width="3"/></g><polygon points="1648,324 1676,318 1676,330" fill="#111"/><polygon points="2449,324 2421,330 2421,318" fill="#111"/><polygon points="1991,415 2019,409 2019,421" fill="#111"/><polygon points="2449,415 2421,421 2421,409" fill="#111"/><polygon points="2547.3,533 2553.3,561 2541.3,561" fill="#111"/><polygon points="2547.3,794 2541.3,766 2553.3,766" fill="#111"/><text x="1967" y="317.7" font-size="42" fill="#444" textLength="161.5" lengthAdjust="spacingAndGlyphs">60.0±0.5</text><text x="2141.7" y="408.8" font-size="42" fill="#444" textLength="156.5" lengthAdjust="spacingAndGlyphs">35.0±0.3</text><text transform="translate(2535,745.5) rotate(-90)" font-size="42" fill="#444" textLength="162" lengthAdjust="spacingAndGlyphs">20.0±0.2</text><line x1="1320" y1="662" x2="1572" y2="662" stroke="#c47a8a" stroke-width="6" stroke-dasharray="27 9"/><path d="M1410,593 L1356.2,621 V699.5 L1410,733.6" fill="#fff" stroke="#444" stroke-width="3"/><rect x="1410" y="590.2" width="122.3" height="146.2" fill="none" stroke="#444" stroke-width="3.2"/><rect x="1456.2" y="621" width="21.6" height="86.2" fill="none" stroke="#444" stroke-width="3.2"/><line x1="1320" y1="662" x2="1572" y2="662" stroke="#c47a8a" stroke-width="6" stroke-dasharray="27 9" opacity="0.9"/><rect x="1607" y="630.2" width="17" height="8" fill="#8a8a8a" stroke="#222" stroke-width="1.5"/><rect x="1607" y="689.3" width="17" height="8" fill="#8a8a8a" stroke="#222" stroke-width="1.5"/><rect x="1624" y="617.9" width="22" height="90.8" fill="#fff" stroke="#555" stroke-width="2.5"/><rect x="1647" y="599.4" width="109.4" height="129.3" fill="#fff" stroke="none"/><line x1="1647" y1="600" x2="1756" y2="600" stroke="#333" stroke-width="5.5"/><line x1="1647" y1="728" x2="1756" y2="728" stroke="#333" stroke-width="5.5"/><line x1="1648.5" y1="598" x2="1648.5" y2="730" stroke="#8a8a8a" stroke-width="5"/><line x1="1652" y1="637.3" x2="1756" y2="637.3" stroke="#3a3a3a" stroke-width="2.5"/><line x1="1652" y1="689.6" x2="1756" y2="689.6" stroke="#3a3a3a" stroke-width="2.5"/><line x1="1661" y1="637.3" x2="1661" y2="689.6" stroke="#3a3a3a" stroke-width="2.5"/><rect x="1749" y="593" width="8" height="10" fill="#888"/><rect x="1749" y="725" width="8" height="10" fill="#888"/><rect x="1756.8" y="585.1" width="166.2" height="156.7" fill="#f2f21c" stroke="#6e6e20" stroke-width="2.5"/><rect x="1756.8" y="604.3" width="40.5" height="118.3" fill="#f2f21c" stroke="#6e6e20" stroke-width="2"/><rect x="1797.3" y="604.3" width="125.7" height="118.3" fill="#f8f81a" stroke="#6e6e20" stroke-width="2"/><rect x="1756.8" y="585.1" width="166.2" height="19.2" fill="#eaea30" stroke="#6e6e20" stroke-width="2.2"/><rect x="1756.8" y="722.6" width="166.2" height="19.2" fill="#eaea30" stroke="#6e6e20" stroke-width="2.2"/><rect x="1795.8" y="579.2" width="17.7" height="25.1" fill="#eaea30" stroke="#6e6e20" stroke-width="2.5"/><rect x="1795.8" y="722.6" width="17.7" height="25.1" fill="#eaea30" stroke="#6e6e20" stroke-width="2.5"/><rect x="1828.3" y="579.2" width="14.7" height="25.1" fill="#eaea30" stroke="#6e6e20" stroke-width="2.5"/><rect x="1828.3" y="722.6" width="14.7" height="25.1" fill="#eaea30" stroke="#6e6e20" stroke-width="2.5"/><rect x="1856.4" y="579.2" width="16.2" height="25.1" fill="#eaea30" stroke="#6e6e20" stroke-width="2.5"/><rect x="1856.4" y="722.6" width="16.2" height="25.1" fill="#eaea30" stroke="#6e6e20" stroke-width="2.5"/><rect x="1889" y="579.2" width="34" height="25.1" fill="#eaea30" stroke="#6e6e20" stroke-width="2.5"/><rect x="1889" y="722.6" width="34" height="25.1" fill="#eaea30" stroke="#6e6e20" stroke-width="2.5"/><rect x="1769" y="625" width="26.8" height="82.8" fill="none" stroke="#6e6e20" stroke-width="2.5"/><text transform="translate(1790,698) rotate(-90)" font-size="21" fill="#6e6e20" textLength="60" lengthAdjust="spacingAndGlyphs">PULL</text><polyline points="1797.3,608.8 1816.5,624 1797.3,639.8" fill="none" stroke="#6e6e20" stroke-width="2.5"/><polyline points="1797.3,687 1816.5,702 1797.3,716.7" fill="none" stroke="#6e6e20" stroke-width="2.5"/><text transform="translate(1898,610) rotate(90)" font-size="15" font-weight="bold" fill="#6e6e20" textLength="100" lengthAdjust="spacingAndGlyphs">TO REMOVE</text><rect x="1923" y="586" width="32" height="151" fill="#fff" stroke="#666" stroke-width="2.5"/><rect x="1923" y="586" width="32" height="11" fill="#9a9a9a"/><rect x="1923" y="726" width="32" height="11" fill="#9a9a9a"/><line x1="1923" y1="644" x2="1955" y2="644" stroke="#333" stroke-width="2.5"/><line x1="1923" y1="684" x2="1955" y2="684" stroke="#333" stroke-width="2.5"/><line x1="1923" y1="662" x2="1955" y2="662" stroke="#c47a8a" stroke-width="6" stroke-dasharray="10 6"/><rect x="1955" y="597" width="27" height="127" fill="#fff" stroke="#111" stroke-width="3"/><line x1="1955" y1="662" x2="1982" y2="662" stroke="#c47a8a" stroke-width="6"/><path d="M2025,590.6 L2228,530.7 H2431 Q2451.2,530.7 2451.2,551 V776 Q2451.2,796 2431,796 H2228 L2025,733.3 Z" fill="#fff" stroke="#4a4a4a" stroke-width="3"/><path d="M2025,603.3 L2228,541.4 H2425 Q2442.6,541.4 2442.6,558 V770 Q2442.6,787.4 2425,787.4 H2228 L2025,721.5 Z" fill="#fff" stroke="#4a4a4a" stroke-width="3"/><rect x="1989.6" y="590.6" width="35.4" height="142.7" fill="#fff" stroke="#555" stroke-width="2.5"/><line x1="1989.6" y1="603.3" x2="2025" y2="603.3" stroke="#555" stroke-width="2.5"/><line x1="1989.6" y1="721.5" x2="2025" y2="721.5" stroke="#555" stroke-width="2.5"/><line x1="1982" y1="662" x2="2362" y2="662" stroke="#c47a8a" stroke-width="6"/><line x1="2390" y1="662" x2="2493" y2="662" stroke="#c47a8a" stroke-width="6"/><rect x="2285" y="594" width="91.8" height="139.2" fill="none" stroke="#4a4a4a" stroke-width="3.5"/></g></g><g font-family="Liberation Serif, serif" fill="#1a1a1a"><text x="127.9" y="219.3" font-size="49" textLength="581.6" lengthAdjust="spacingAndGlyphs">1.MPO/MTP Loopback 8 Fiber</text><text x="137.3" y="941.5" font-size="49" textLength="615.7" lengthAdjust="spacingAndGlyphs">2. MPO/MTP Loopback 12 Fiber</text><text x="136.3" y="1668.3" font-size="49" textLength="602.1" lengthAdjust="spacingAndGlyphs">3. MPO/MTP Loopback 24 Fibe</text></g></svg>
<h2 id="h0" style="left:93.5px;top:59.06px;letter-spacing:-1.61px">Dimensional Diagram</h2>
<h2 id="h1" style="left:87px;top:2601.66px;letter-spacing:-1.54px">Applications</h2>
<h2 id="h2" style="left:86.9px;top:3172.96px;letter-spacing:-1.51px">Features</h2>
<h2 id="h3" style="left:83.8px;top:3673.76px;letter-spacing:-0.83px">MPO&amp;MTP Optical Characteristics</h2>
<div class="li" id="a0" style="left:102px;top:2704.45px;letter-spacing:-0.33px">1. Utilization in 40GbE QSFP+ optical module verification processes.</div>
<div class="li" id="a1" style="left:102px;top:2772.95px;letter-spacing:0.18px">2. Integration within research and development phases for innovative solutions.</div>
<div class="li" id="a2" style="left:102px;top:2841.45px;letter-spacing:0.43px">3. Deployment in manufacturing environments for thorough product testing.</div>
<div class="li" id="a3" style="left:102px;top:2909.95px;letter-spacing:0.33px">4. Application in troubleshooting to swiftly resolve network issues.</div>
<div class="li" id="a4" style="left:102px;top:2978.45px;letter-spacing:-0.06px">5. Inclusion in quality assurance procedures to uphold high standards.</div>
<div class="li" id="a5" style="left:102px;top:3046.95px;letter-spacing:0.25px">6. Adoption in training programs for skill enhancement and education.</div>
<div class="li" id="f0" style="left:102px;top:3275.15px;letter-spacing:0.1px">1. Offers a broad spectrum of wiring arrangements and fiber options to suit diverse application needs.</div>
<div class="li" id="f1" style="left:102px;top:3343.55px;letter-spacing:0.02px">2. Ensures full compliance with TIA/EIA and IEC interoperability standards for universal compatibility.</div>
<div class="li" id="f2" style="left:102px;top:3411.95px;letter-spacing:0.04px">3. Provides configurations supporting 8, 12, and 24 fibers to accommodate varying density requirements.</div>
<div class="li" id="f3" style="left:102px;top:3480.35px;letter-spacing:0.05px">4. Features user-friendly installation and removal processes, optionally equipped with pull tabs for added convenience.</div>
<div class="li" id="f4" style="left:102px;top:3548.75px;letter-spacing:0.06px">5. Designed with compactness and portability in mind, enhanced with a lanyard feature for easy handling and secure attachment.</div>
<table id="tb" style="left:88px;top:3766px;width:3000px;height:513px">
<colgroup><col style="width:297px"><col style="width:595px"><col style="width:593px"><col style="width:596px"><col style="width:590px"><col style="width:327px"></colgroup>
<tr style="height:102px"><td rowspan="3"><span style="letter-spacing:2.8px">Item</span></td><td colspan="4"><span style="letter-spacing:0.15px">Parameter</span></td><td rowspan="3"><span style="letter-spacing:-0.5px">Reference</span></td></tr>
<tr style="height:104px"><td colspan="2"><span style="letter-spacing:-0.2px">Single mode</span></td><td colspan="2"><span style="letter-spacing:2.38px">Multimode</span></td></tr>
<tr style="height:102px"><td ><span style="letter-spacing:0.14px">Standard</span></td><td ><span style="letter-spacing:0.8px">Elite</span></td><td ><span style="letter-spacing:0.31px">Standard</span></td><td ><span style="letter-spacing:1.1px">Elite</span></td></tr>
<tr style="height:101px"><td ><span style="letter-spacing:0.22px">Insertion loss</span></td><td ><span style="letter-spacing:-0.35px">Typical≤0.30dB Max≤0.75dB</span></td><td ><span style="letter-spacing:-0.35px">Typical≤0.15dB Max≤0.35dB</span></td><td ><span style="letter-spacing:-0.34px">Typical≤0.50dB Max≤0.25dB</span></td><td ><span style="letter-spacing:-0.38px">Typical≤0.10dB Max≤0.35dB</span></td><td ><span style="letter-spacing:-0.73px">IEC61300-3-34</span></td></tr>
<tr style="height:102px"><td ><span style="letter-spacing:0.04px">Return loss</span></td><td ><span style="letter-spacing:-1.38px">≥50dB (PC) ≥60dB (APC)</span></td><td ><span style="letter-spacing:-1.43px">≥55dB (PC) ≥65dB (APC)</span></td><td ><span style="letter-spacing:-1.16px">≥30dB (PC)</span></td><td ><span style="letter-spacing:-1.27px">≥30dB (PC)</span></td><td ><span style="letter-spacing:-0.8px">IEC61300-3-6</span></td></tr>
</table>
</body></html>
